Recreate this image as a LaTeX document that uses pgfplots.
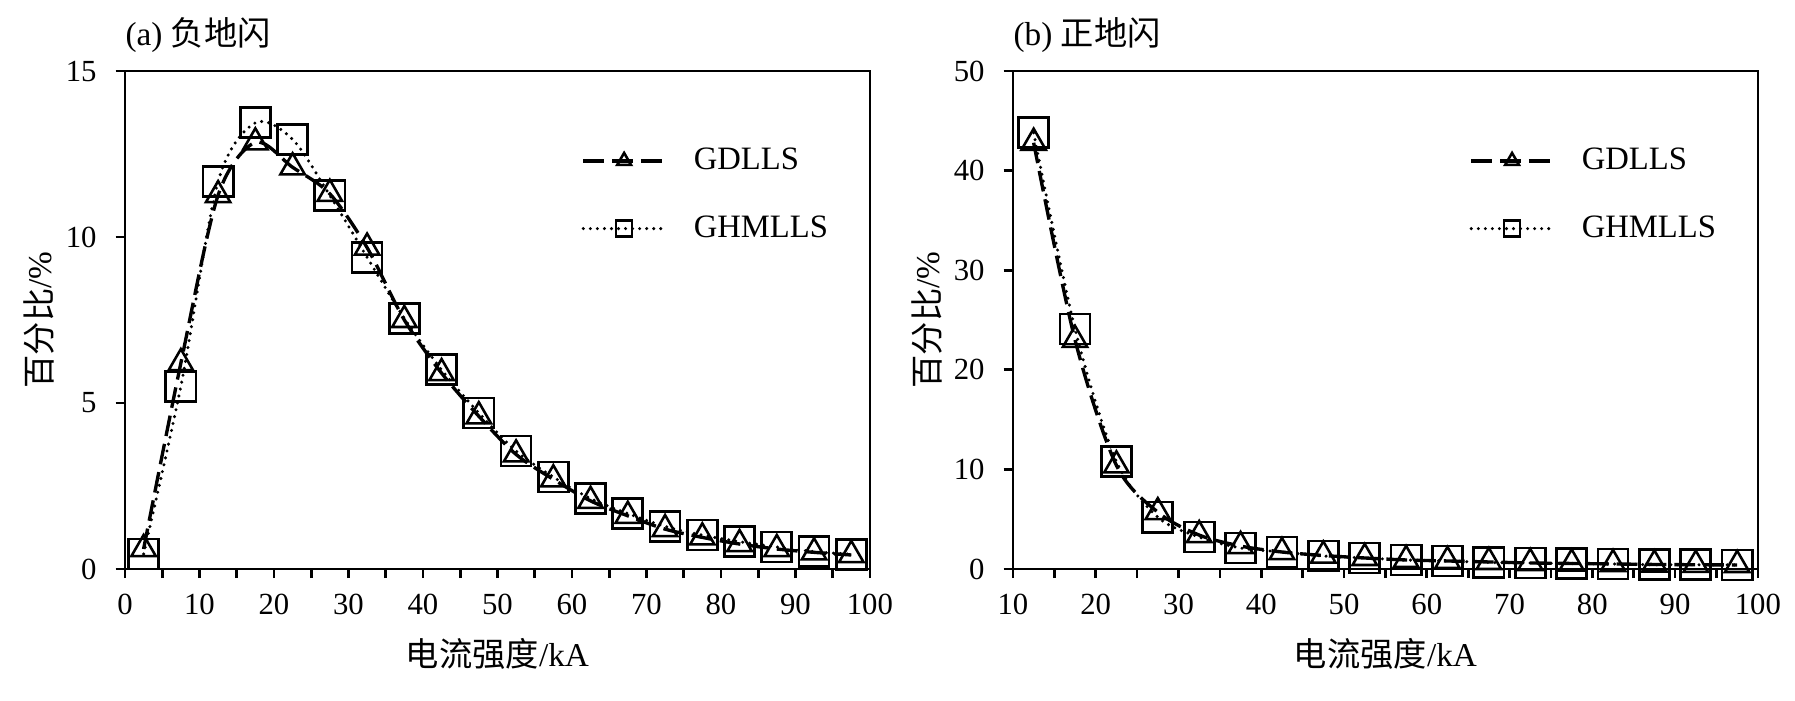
\documentclass[border=0pt]{standalone}
\usepackage{fontspec}
\setmainfont{Liberation Serif}
\newfontfamily\cjk{Noto Sans CJK SC}
\usepackage{pgfplots}
\pgfplotsset{compat=1.18}
\pgfplotstableread{
x gdlls ghmlls
2.5 0.60 0.45
7.5 6.20 5.50
12.5 11.26 11.67
17.5 12.85 13.44
22.5 12.10 12.94
27.5 11.30 11.25
32.5 9.68 9.39
37.5 7.50 7.55
42.5 5.90 6.00
47.5 4.60 4.70
52.5 3.45 3.55
57.5 2.70 2.77
62.5 2.05 2.12
67.5 1.60 1.67
72.5 1.20 1.28
77.5 0.95 1.02
82.5 0.75 0.82
87.5 0.60 0.66
92.5 0.50 0.52
97.5 0.42 0.44
}\negdata
\pgfplotstableread{
x gdlls ghmlls
12.5 42.8 43.8
17.5 23.0 24.1
22.5 10.4 10.8
27.5 5.7 5.2
32.5 3.4 3.2
37.5 2.3 2.1
42.5 1.7 1.7
47.5 1.35 1.3
52.5 1.1 1.1
57.5 0.9 0.9
62.5 0.8 0.8
67.5 0.7 0.65
72.5 0.6 0.6
77.5 0.55 0.55
82.5 0.5 0.5
87.5 0.45 0.42
92.5 0.42 0.42
97.5 0.4 0.4
}\posdata
\begin{document}
\begin{tikzpicture}
\useasboundingbox (-39.06pt,-41.25pt) rectangle (521.9pt,177.8pt);
\pgfplotsset{
  common/.style={
    scale only axis, width=232.8pt, height=155.6pt,
    clip=false,
    axis line style={line width=0.85pt, black},
    tick style={line width=0.85pt, black},
    tick align=outside,
    major tick length=2.9pt, minor tick length=2.9pt,
    xtick pos=left, ytick pos=left,
    minor x tick num=1,
    /pgf/number format/assume math mode=true,
    tick label style={font=\fontsize{9.6}{11}\selectfont, inner sep=0pt},
    xticklabel shift=4.7pt,
    yticklabel shift=5.8pt,
    label style={font=\fontsize{10.4}{12.5}\selectfont},
    xlabel style={at={(axis description cs:0.5,-0.171)}, anchor=center},
    ylabel style={at={(axis description cs:-0.116,0.5)}, anchor=center},
    legend style={draw=none, fill=none, at={(axis description cs:0.613,0.846)}, anchor=north west,
      inner sep=0pt, outer sep=0pt, row sep=12.9pt, column sep=8.5pt,
      font=\fontsize{10.2}{12}\selectfont, nodes={inner sep=0pt}},
    legend cell align=left,
    legend image code/.code={\draw[mark repeat=2, mark phase=2, ##1, mark size=2.5pt] plot coordinates {(0pt,0pt) (12.75pt,0pt) (25.5pt,0pt)};},
    xlabel={{\cjk 电流强度}/kA},
    ylabel={{\cjk 百分比}/\%},
  },
  sA/.style={black, line width=1.05pt, dash pattern=on 6.5pt off 2.5pt, smooth, mark=triangle, mark size=4.4pt, mark options={solid, line width=0.8pt}},
  sB/.style={black, line width=1.05pt, line cap=round, dash pattern=on 0pt off 2.2pt, smooth, mark=square, mark size=4.7pt, mark options={solid, line width=0.85pt}},
}
\begin{axis}[common,
  xmin=0, xmax=100, ymin=0, ymax=15,
  xtick={0,10,...,100}, ytick={0,5,10,15},
]
\addplot[sA] table[x=x, y=gdlls] {\negdata};
\addlegendentry{GDLLS}
\addplot[sB] table[x=x, y=ghmlls] {\negdata};
\addlegendentry{GHMLLS}
\node[anchor=base west, inner sep=0pt, yshift=8.1pt, font=\fontsize{10.4}{12.5}\selectfont] at (rel axis cs:0,1) {(a) {\cjk 负地闪}};
\end{axis}
\begin{axis}[common, at={(277.5pt,0pt)},
  xmin=10, xmax=100, ymin=0, ymax=50,
  xtick={10,20,...,100}, ytick={0,10,...,50},
]
\addplot[sA] table[x=x, y=gdlls] {\posdata};
\addlegendentry{GDLLS}
\addplot[sB] table[x=x, y=ghmlls] {\posdata};
\addlegendentry{GHMLLS}
\node[anchor=base west, inner sep=0pt, yshift=8.1pt, font=\fontsize{10.4}{12.5}\selectfont] at (rel axis cs:0,1) {(b) {\cjk 正地闪}};
\end{axis}
\end{tikzpicture}
\end{document}
